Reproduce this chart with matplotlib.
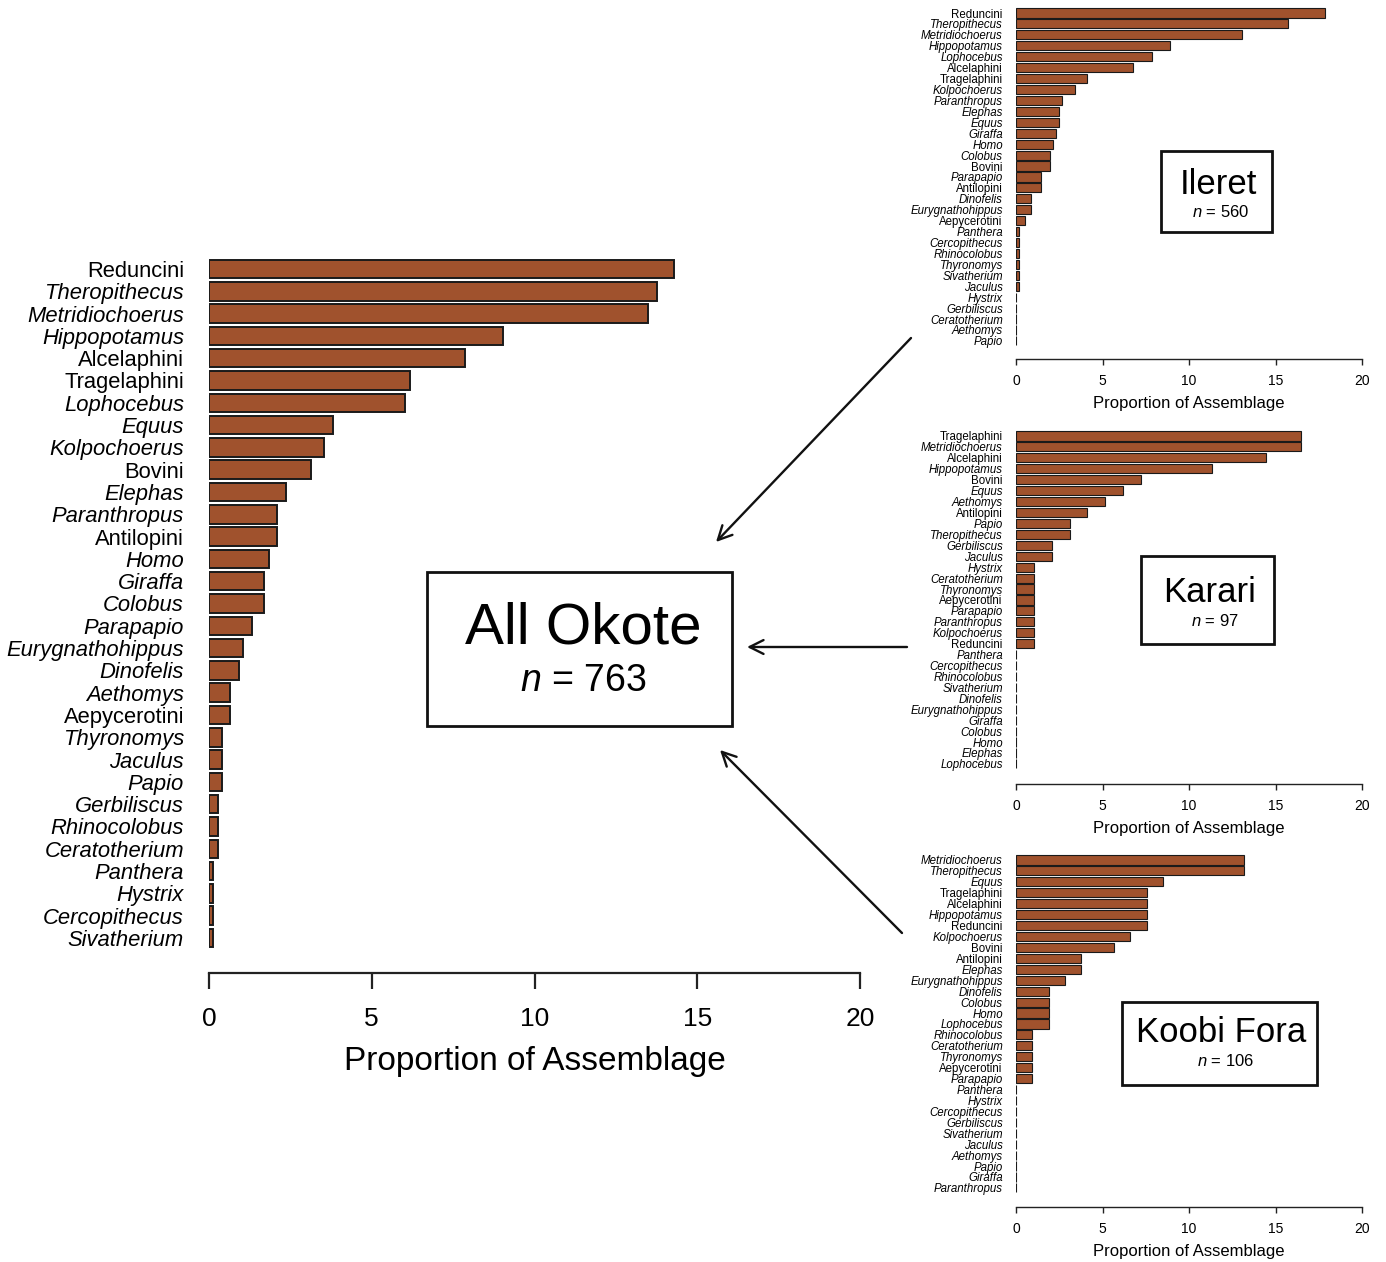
import matplotlib
matplotlib.use("Agg")
import matplotlib.pyplot as plt
from matplotlib.patches import FancyArrowPatch, Rectangle

plt.rcParams['font.family'] = ['Liberation Sans', 'DejaVu Sans']
plt.rcParams['mathtext.fontset'] = 'custom'
plt.rcParams['mathtext.it'] = 'Liberation Sans:italic'
plt.rcParams['mathtext.rm'] = 'Liberation Sans'

# ---------------- data (counts -> % of assemblage) ----------------
all_taxa = ["Reduncini", "Theropithecus", "Metridiochoerus", "Hippopotamus", "Alcelaphini",
            "Tragelaphini", "Lophocebus", "Equus", "Kolpochoerus", "Bovini", "Elephas",
            "Paranthropus", "Antilopini", "Homo", "Giraffa", "Colobus", "Parapapio",
            "Eurygnathohippus", "Dinofelis", "Aethomys", "Aepycerotini", "Thyronomys",
            "Jaculus", "Papio", "Gerbiliscus", "Rhinocolobus", "Ceratotherium", "Panthera",
            "Hystrix", "Cercopithecus", "Sivatherium"]
all_counts = [109, 105, 103, 69, 60, 47, 46, 29, 27, 24, 18, 16, 16, 14, 13, 13, 10,
              8, 7, 5, 5, 3, 3, 3, 2, 2, 2, 1, 1, 1, 1]
all_n = 763

ileret_taxa = ["Reduncini", "Theropithecus", "Metridiochoerus", "Hippopotamus", "Lophocebus",
               "Alcelaphini", "Tragelaphini", "Kolpochoerus", "Paranthropus", "Elephas",
               "Equus", "Giraffa", "Homo", "Colobus", "Bovini", "Parapapio", "Antilopini",
               "Dinofelis", "Eurygnathohippus", "Aepycerotini", "Panthera", "Cercopithecus",
               "Rhinocolobus", "Thyronomys", "Sivatherium", "Jaculus", "Hystrix",
               "Gerbiliscus", "Ceratotherium", "Aethomys", "Papio"]
ileret_counts = [100, 88, 73, 50, 44, 38, 23, 19, 15, 14, 14, 13, 12, 11, 11, 8, 8,
                 5, 5, 3, 1, 1, 1, 1, 1, 1, 0, 0, 0, 0, 0]
ileret_n = 560

karari_taxa = ["Tragelaphini", "Metridiochoerus", "Alcelaphini", "Hippopotamus", "Bovini",
               "Equus", "Aethomys", "Antilopini", "Papio", "Theropithecus", "Gerbiliscus",
               "Jaculus", "Hystrix", "Ceratotherium", "Thyronomys", "Aepycerotini",
               "Parapapio", "Paranthropus", "Kolpochoerus", "Reduncini", "Panthera",
               "Cercopithecus", "Rhinocolobus", "Sivatherium", "Dinofelis",
               "Eurygnathohippus", "Giraffa", "Colobus", "Homo", "Elephas", "Lophocebus"]
karari_counts = [16, 16, 14, 11, 7, 6, 5, 4, 3, 3, 2, 2, 1, 1, 1, 1, 1, 1, 1, 1,
                 0, 0, 0, 0, 0, 0, 0, 0, 0, 0, 0]
karari_n = 97

koobi_taxa = ["Metridiochoerus", "Theropithecus", "Equus", "Tragelaphini", "Alcelaphini",
              "Hippopotamus", "Reduncini", "Kolpochoerus", "Bovini", "Antilopini", "Elephas",
              "Eurygnathohippus", "Dinofelis", "Colobus", "Homo", "Lophocebus",
              "Rhinocolobus", "Ceratotherium", "Thyronomys", "Aepycerotini", "Parapapio",
              "Panthera", "Hystrix", "Cercopithecus", "Gerbiliscus", "Sivatherium",
              "Jaculus", "Aethomys", "Papio", "Giraffa", "Paranthropus"]
koobi_counts = [14, 14, 9, 8, 8, 8, 8, 7, 6, 4, 4, 3, 2, 2, 2, 2, 1, 1, 1, 1, 1,
                0, 0, 0, 0, 0, 0, 0, 0, 0, 0]
koobi_n = 106

xticks = [0, 5, 10, 15, 20]
xlabel = "Proportion of Assemblage"

W, H = 1386, 1262
fig = plt.figure(figsize=(W / 100, H / 100), dpi=100)
BAR = "#A0522D"


def fx(px):
    return px / W


def fy(py):
    return 1 - py / H


def panel(taxa, counts, n, x0, x1, c0, spacing, yaxis, ytop,
          lab_fs, tick_fs, xl_fs, ticklen, tickpad, ylab_pad, xl_pad, lw, spw):
    ax = fig.add_axes([fx(x0), fy(yaxis), fx(x1) - fx(x0), (yaxis - ytop) / H])
    vals = [c / n * 100 for c in counts]
    pos = list(range(len(taxa)))
    ax.barh(pos, vals, height=1 / 1.2, color=BAR, edgecolor="#1a1a1a", linewidth=lw)
    ax.set_xlim(0, 20)
    ax.set_ylim((yaxis - c0) / spacing, (ytop - c0) / spacing)
    ax.set_yticks(pos)
    ax.set_yticklabels(taxa, fontsize=lab_fs)
    for t, name in zip(ax.get_yticklabels(), taxa):
        if not name.endswith("ini"):
            t.set_fontstyle("italic")
    ax.tick_params(axis="y", length=0, pad=ylab_pad)
    ax.set_xticks(xticks)
    ax.set_xticklabels([str(v) for v in xticks], fontsize=tick_fs)
    ax.tick_params(axis="x", length=ticklen, width=spw, pad=tickpad, color="#222222")
    for s in ["top", "right", "left"]:
        ax.spines[s].set_visible(False)
    ax.spines["bottom"].set_linewidth(spw)
    ax.spines["bottom"].set_color("#222222")
    ax.spines["bottom"].set_bounds(0, 20)
    ax.set_xlabel(xlabel, fontsize=xl_fs, labelpad=xl_pad)
    ax.patch.set_alpha(0)
    return ax


# main panel
panel(all_taxa, all_counts, all_n, 209, 860, 269, 22.3, 973, 250,
      lab_fs=15.8, tick_fs=19, xl_fs=24, ticklen=11.5, tickpad=13,
      ylab_pad=18, xl_pad=11, lw=1.4, spw=1.6)
# small panels
small = dict(lab_fs=8.3, tick_fs=10, xl_fs=12, ticklen=4.5, tickpad=6,
             ylab_pad=9.5, xl_pad=6, lw=0.8, spw=1.0)
panel(ileret_taxa, ileret_counts, ileret_n, 1016, 1362, 13, 10.93, 359, 2, **small)
panel(karari_taxa, karari_counts, karari_n, 1016, 1362, 436, 10.93, 784, 427, **small)
panel(koobi_taxa, koobi_counts, koobi_n, 1016, 1362, 860, 10.93, 1207, 851, **small)


def box(x0, y0, x1, y1, title, ntxt, tx, ty, nx, ny, tfs, nfs):
    fig.add_artist(Rectangle((fx(x0), fy(y1)), fx(x1) - fx(x0), fy(y0) - fy(y1),
                             transform=fig.transFigure, fill=False,
                             edgecolor="#111111", linewidth=2.0))
    fig.text(fx(tx), fy(ty), title, fontsize=tfs, ha="center", va="center")
    fig.text(fx(nx), fy(ny), r"$n$ = " + ntxt, fontsize=nfs, ha="center", va="center")


box(427, 572, 732, 726, "All Okote", str(all_n), 583, 628, 583, 681, 42, 27)
box(1161, 151, 1272, 232, "Ileret", str(ileret_n), 1218, 185, 1221, 212, 25, 12)
box(1141, 556, 1274, 644, "Karari", str(karari_n), 1210, 593, 1215, 621, 25, 12)
box(1122, 1002, 1317, 1085, "Koobi Fora", str(koobi_n), 1221, 1033, 1226, 1061, 25, 12)


def arrow(xs, ys, xe, ye):
    fig.add_artist(FancyArrowPatch((fx(xs), fy(ys)), (fx(xe), fy(ye)),
                                   transform=fig.transFigure,
                                   arrowstyle="->,head_length=10,head_width=5",
                                   linewidth=1.7, color="#111111",
                                   shrinkA=0, shrinkB=0))


arrow(911, 338, 716, 542)
arrow(907, 647, 747, 647)
arrow(902, 933, 720, 750)

fig.savefig("out.png", dpi=100, facecolor="white")
